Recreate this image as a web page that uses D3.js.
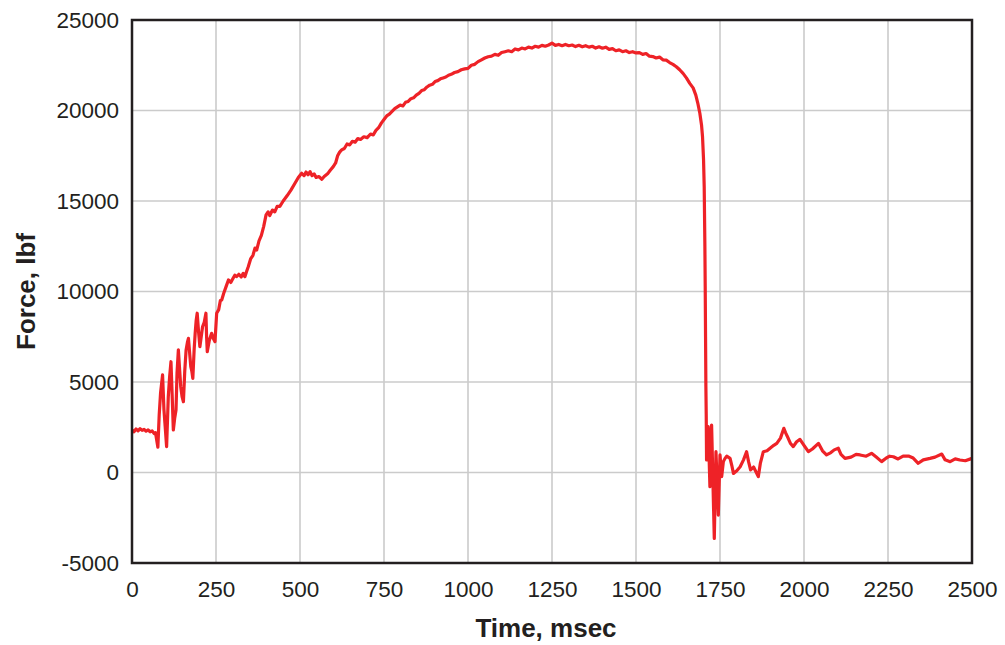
<!DOCTYPE html>
<html>
<head>
<meta charset="utf-8">
<script src="https://cdn.jsdelivr.net/npm/d3@7"></script>
<style>
  body { margin: 0; background: #fff; }
  text { font-family: "Liberation Sans", Arial, sans-serif; fill: #231f20; }
</style>
</head>
<body>
<script>
// force vs time
const timeMs = [
  0, 6, 12, 18, 24, 30, 36, 42, 48, 54, 60, 66, 70,
  77, 81, 85, 91, 95, 98, 103, 108, 112, 116, 120, 123, 127, 131, 134, 138, 142, 145, 149, 153,
  157, 161, 165, 168, 172, 175, 178, 181, 185, 188, 191, 194, 198, 202, 206, 210, 215, 220, 222, 224,
  230, 237, 242, 247, 252, 258, 263, 267, 273, 280, 287, 294, 300, 306, 311, 318, 325, 331, 336, 341,
  346, 353, 360, 366, 371, 378, 385, 392, 399, 405, 410, 418, 425, 432, 440, 450, 462, 473, 485, 495,
  505, 512, 518, 524, 530, 536, 542, 548, 556, 565, 572, 582, 590, 599, 606, 612, 618, 624, 632, 640,
  648, 656, 664, 672, 680, 690, 700, 710, 718, 726, 734, 742, 750, 758, 766, 774, 782, 790, 798, 806,
  814, 822, 830, 838, 846, 854, 862, 870, 878, 886, 894, 902, 910, 918, 926, 934, 942, 950, 960, 970,
  980, 990, 1000, 1010, 1020, 1030, 1040, 1050, 1060, 1070, 1080, 1090, 1100, 1110, 1120, 1130, 1140,
  1150, 1160, 1170, 1180, 1190, 1200, 1210, 1220, 1230, 1240, 1250, 1260, 1270, 1280, 1290, 1300, 1310,
  1320, 1330, 1340, 1350, 1360, 1370, 1380, 1390, 1400, 1410, 1420, 1430, 1440, 1450, 1460, 1470, 1480,
  1490, 1500, 1510, 1520, 1530, 1540, 1550, 1560, 1570, 1580, 1590, 1600, 1610, 1620, 1630, 1640, 1650,
  1660, 1670, 1678, 1684, 1690, 1695, 1698, 1701, 1703, 1705, 1706, 1707, 1708, 1709, 1710,
  1715, 1720, 1725, 1733, 1738, 1745, 1750, 1755, 1760, 1765, 1770, 1780, 1785, 1790, 1800, 1810, 1820,
  1829, 1835, 1841, 1850, 1864, 1870, 1879, 1890, 1899, 1910, 1919, 1930, 1940, 1945, 1953, 1960, 1968,
  1978, 1988, 2000, 2013, 2025, 2043, 2055, 2067, 2080, 2090, 2102, 2110, 2122, 2140, 2155, 2167, 2185,
  2201, 2215, 2231, 2245, 2255, 2266, 2280, 2295, 2311, 2325, 2340, 2355, 2375, 2390, 2410, 2420, 2435,
  2450, 2464, 2480, 2500
];
const forceLbf = [
  2350, 2250, 2400, 2300, 2420, 2330, 2380, 2280, 2350, 2250, 2300, 2150, 2200,
  1400, 3200, 4390, 5390, 3500, 2730, 1430, 4190, 5300, 6120, 4000, 2350, 3000, 3450, 5500, 6770, 5600, 4740, 4200, 3910,
  5600, 6770, 7200, 7410, 6500, 5850, 5600, 5200, 6800, 7690, 8400, 8800, 7800, 6950, 7500, 8050, 8300, 8800, 7500, 6670,
  7300, 7690, 7400, 7230, 8800, 9000, 9500, 9530, 9900, 10270, 10640, 10500, 10700, 10900, 10820, 10950, 10800, 11000, 10820, 11100,
  11370, 11800, 12000, 12400, 12290, 12800, 13100, 13600, 14230, 14400, 14200, 14500, 14400, 14700, 14700, 15000, 15300, 15600, 15980, 16300,
  16530, 16400, 16600, 16450, 16620, 16400, 16500, 16300, 16350, 16200, 16350, 16500, 16700, 16900, 17100, 17500, 17700, 17820, 17900, 18150,
  18100, 18300, 18250, 18450, 18400, 18550, 18500, 18700, 18650, 18900, 19050, 19300, 19500, 19700, 19800, 19950, 20100, 20200, 20300, 20250,
  20450, 20500, 20650, 20700, 20850, 20950, 21100, 21150, 21300, 21400, 21450, 21600, 21650, 21750, 21800, 21850, 21950, 22000, 22100, 22150,
  22250, 22300, 22330, 22500, 22550, 22700, 22800, 22900, 22970, 23000, 23100, 23050, 23200, 23250, 23300, 23250, 23400,
  23350, 23450, 23400, 23500, 23450, 23550, 23500, 23600, 23550, 23620, 23720, 23600, 23650, 23580, 23650, 23580, 23620,
  23530, 23600, 23520, 23580, 23500, 23550, 23450, 23520, 23440, 23500, 23380, 23420, 23300, 23350, 23250, 23300, 23200,
  23250, 23180, 23200, 23100, 23150, 23000, 22980, 22900, 22950, 22800, 22780, 22650, 22550, 22420, 22250, 22050, 21800,
  21500, 21250, 20850, 20400, 19850, 19200, 18550, 17300, 15790, 12500, 10270, 7500, 4740, 3200, 690,
  2530, -780, 2620, -3640, 1150, -2350, 970, -230, 600, 780, 900, 780, 400, -50, 100, 320, 700,
  1150, 600, 140, 300, -230, 500, 1150, 1200, 1340, 1500, 1610, 1900, 2440, 2200, 1890, 1600, 1430,
  1700, 1830, 1500, 1150, 1300, 1610, 1200, 970, 1100, 1250, 1340, 1000, 780, 850, 1000, 970, 900,
  1060, 850, 600, 800, 900, 870, 750, 900, 910, 800, 510, 700, 780, 850, 1020, 700, 600,
  750, 690, 650, 780
];
const xTicks = [0, 250, 500, 750, 1000, 1250, 1500, 1750, 2000, 2250, 2500];
const yTicks = [-5000, 0, 5000, 10000, 15000, 20000, 25000];

const W = 1005, H = 645;
const margin = { top: 20, right: 33, bottom: 82, left: 132 };
const iw = W - margin.left - margin.right;
const ih = H - margin.top - margin.bottom;

const x = d3.scaleLinear().domain([0, 2500]).range([0, iw]);
const y = d3.scaleLinear().domain([-5000, 25000]).range([ih, 0]);

const svg = d3.select('body').append('svg')
  .attr('width', W).attr('height', H);
const g = svg.append('g')
  .attr('transform', 'translate(' + margin.left + ',' + margin.top + ')');

// grid
g.append('g').selectAll('line').data(xTicks).enter().append('line')
  .attr('x1', d => x(d)).attr('x2', d => x(d))
  .attr('y1', 0).attr('y2', ih)
  .attr('stroke', '#cbcbcb').attr('stroke-width', 1.6);
g.append('g').selectAll('line').data(yTicks).enter().append('line')
  .attr('x1', 0).attr('x2', iw)
  .attr('y1', d => y(d)).attr('y2', d => y(d))
  .attr('stroke', '#cbcbcb').attr('stroke-width', 1.6);

// axes (labels only), plain hyphen for negatives
const fmt = d => String(d);
const xAxis = g.append('g')
  .attr('transform', 'translate(0,' + ih + ')')
  .call(d3.axisBottom(x).tickValues(xTicks).tickSize(0).tickPadding(18).tickFormat(fmt));
const yAxis = g.append('g')
  .call(d3.axisLeft(y).tickValues(yTicks).tickSize(0).tickPadding(13).tickFormat(fmt));
[xAxis, yAxis].forEach(a => {
  a.select('.domain').remove();
  a.selectAll('text').attr('font-size', 22.5).attr('fill', '#231f20')
    .attr('font-family', '"Liberation Sans", Arial, sans-serif');
});

// data line
const line = d3.line()
  .x((d, i) => x(timeMs[i]))
  .y(d => y(d));
g.append('path')
  .datum(forceLbf)
  .attr('d', line)
  .attr('fill', 'none')
  .attr('stroke', '#ee2227')
  .attr('stroke-width', 3.2)
  .attr('stroke-linejoin', 'round');

// frame
g.append('rect')
  .attr('width', iw).attr('height', ih)
  .attr('fill', 'none')
  .attr('stroke', '#231f20').attr('stroke-width', 2.5);

// titles
svg.append('text')
  .attr('x', 546).attr('y', 637)
  .attr('text-anchor', 'middle')
  .attr('font-size', 26).attr('font-weight', 'bold')
  .text('Time, msec');
svg.append('text')
  .attr('transform', 'translate(35,' + (margin.top + ih / 2) + ') rotate(-90)')
  .attr('text-anchor', 'middle')
  .attr('font-size', 26).attr('font-weight', 'bold')
  .text('Force, lbf');
</script>
</body>
</html>
